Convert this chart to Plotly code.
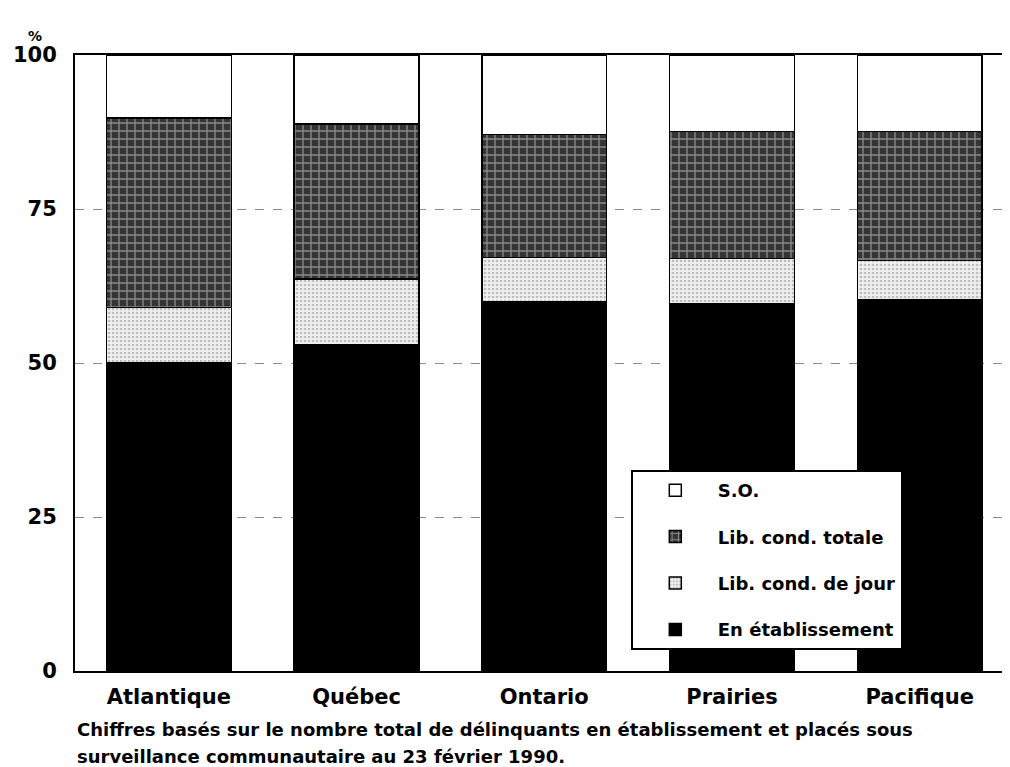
import plotly.graph_objects as go

categories = ["Atlantique", "Québec", "Ontario", "Prairies", "Pacifique"]
en_etablissement = [50.0, 52.9, 60.0, 59.7, 60.3]
lib_cond_jour = [9.0, 10.7, 7.1, 7.3, 6.3]
lib_cond_totale = [30.8, 25.2, 20.0, 20.6, 21.0]
so = [10.2, 11.2, 12.9, 12.4, 12.4]
y_ticks = [0, 25, 50, 75, 100]
caption_1 = "Chiffres basés sur le nombre total de délinquants en établissement et placés sous"
caption_2 = "surveillance communautaire au 23 février 1990."

# page body has an 8px margin; figure coordinates = screen - 8
OFF = 8
W, H = 1010 - OFF, 767 - OFF
ML, MR, MT = 75 - OFF, 2, 55 - OFF
BOTTOM = 671 - OFF
MB = H - BOTTOM
pw = W - ML - MR
ph = BOTTOM - MT

fig = go.Figure()
line = dict(color="black", width=1.5)
fig.add_trace(go.Bar(x=categories, y=en_etablissement, name="En établissement",
                     legendgroup="a", legendrank=4, marker=dict(color="black", line=line)))
fig.add_trace(go.Bar(x=categories, y=lib_cond_jour, name="Lib. cond. de jour",
                     legendgroup="b", legendrank=3,
                     marker=dict(color="#f0f0f0", line=line,
                                 pattern=dict(shape=".", fgcolor="#8a8a8a", bgcolor="#f0f0f0",
                                              size=4, solidity=0.35))))
fig.add_trace(go.Bar(x=categories, y=lib_cond_totale, name="Lib. cond. totale",
                     legendgroup="c", legendrank=2,
                     marker=dict(color="#353535", line=line,
                                 pattern=dict(shape="+", fgcolor="#e0e0e0", bgcolor="#353535",
                                              size=8, solidity=0.3))))
fig.add_trace(go.Bar(x=categories, y=so, name="S.O.",
                     legendgroup="d", legendrank=1, marker=dict(color="white", line=line)))

fig.update_layout(
    width=W, height=H,
    margin=dict(l=ML, r=MR, t=MT, b=MB),
    barmode="stack", bargap=0.335,
    plot_bgcolor="white", paper_bgcolor="white",
    font=dict(family="DejaVu Sans", color="black"),
    showlegend=True,
    legend=dict(x=(632 - OFF - ML) / pw, y=(BOTTOM - (650 - OFF)) / ph,
                xanchor="left", yanchor="bottom",
                bgcolor="white", bordercolor="black", borderwidth=2,
                font=dict(family="DejaVu Sans", size=18, color="black", weight="bold"),
                traceorder="grouped", tracegroupgap=20,
                itemwidth=75),
    xaxis=dict(range=[-0.5, 4.46], showline=True, linecolor="black", linewidth=2,
               mirror=True, ticks="", tickfont=dict(size=21, family="DejaVu Sans", weight="bold"),
               ticklabelstandoff=6, showgrid=False),
    yaxis=dict(range=[0, 100], tickvals=y_ticks, showline=True, linecolor="black",
               linewidth=2, mirror=True, ticks="", ticklabelstandoff=12,
               tickfont=dict(size=21, family="DejaVu Sans", weight="bold"),
               showgrid=True, gridcolor="#8a8a8a", griddash="dash", gridwidth=1,
               zeroline=False),
    annotations=[
        dict(text="%", xref="paper", yref="paper", x=(35 - OFF - ML) / pw,
             y=(BOTTOM - (36 - OFF)) / ph,
             xanchor="center", yanchor="middle", showarrow=False,
             font=dict(size=14, family="DejaVu Sans", weight="bold")),
        dict(text=caption_1, xref="paper", yref="paper", x=0,
             y=-((729 - OFF) - BOTTOM) / ph,
             xanchor="left", yanchor="middle", showarrow=False,
             font=dict(size=18, family="DejaVu Sans", weight="bold")),
        dict(text=caption_2, xref="paper", yref="paper", x=0,
             y=-((756 - OFF) - BOTTOM) / ph,
             xanchor="left", yanchor="middle", showarrow=False,
             font=dict(size=18, family="DejaVu Sans", weight="bold")),
    ],
)

fig.write_html("out.html")
